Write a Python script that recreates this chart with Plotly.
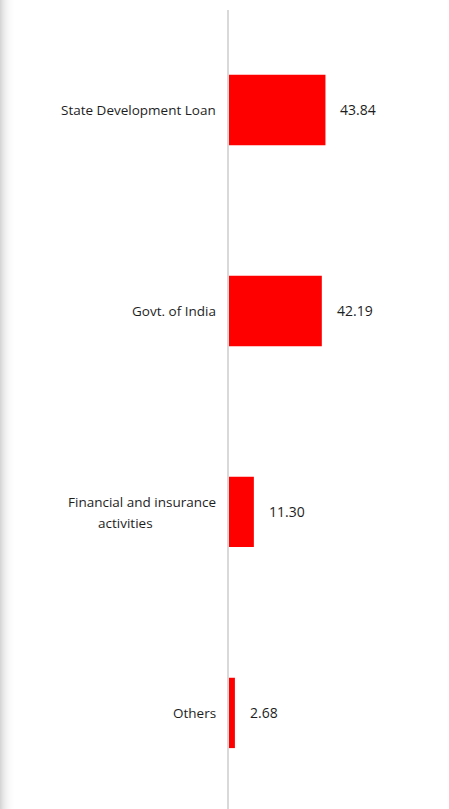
import plotly.graph_objects as go

categories = ["State Development Loan", "Govt. of India", "Financial and insurance<br>activities", "Others"]
values = [43.84, 42.19, 11.30, 2.68]
value_labels = ["43.84", "42.19", "11.30", "2.68"]

W, H = 449, 809
L, T = 229, 10
pw = W - L

ypos = list(range(len(categories)))

fig = go.Figure()
fig.add_trace(go.Bar(
    x=values, y=ypos, orientation="h",
    marker=dict(color="#ff0000", line=dict(width=0)),
    width=0.35, hoverinfo="skip",
))

FONT = "Open Sans, Noto Sans, sans-serif"
annotations = []
for i, (c, v, t) in enumerate(zip(categories, values, value_labels)):
    lines = c.split("<br>")
    n = len(lines)
    for j, ln in enumerate(lines):
        shift = (-(j - (n - 1) / 2) * 21) - (1 if n > 1 else 0)
        if n > 1 and j > 0:
            anchor, xs = "center", 125.5 - L
        else:
            anchor, xs = "right", -11
        annotations.append(dict(x=0, xref="paper", y=i, yref="y", text=ln, showarrow=False,
                                xanchor=anchor, yanchor="middle",
                                xshift=xs, yshift=shift,
                                font=dict(family=FONT, size=13.5, color="#1e1e1e")))
    annotations.append(dict(x=v, xref="x", y=i, yref="y", text=t, showarrow=False,
                            xanchor="left", yanchor="middle", xshift=13,
                            font=dict(family=FONT, size=14, color="#1e1e1e")))

# left edge shadow
shapes = []
shade = [214, 220, 226, 231, 235, 239, 242, 245, 247, 249, 251, 252, 253, 254]
for k, g in enumerate(shade):
    x0 = (k - L) / pw
    x1 = (k + 1 - L) / pw
    shapes.append(dict(type="rect", xref="paper", yref="paper", x0=x0, x1=x1, y0=-0.05, y1=1.05,
                       fillcolor=f"rgb({g},{g},{g})", line=dict(width=0), layer="below"))

fig.update_layout(
    width=W, height=H,
    margin=dict(l=L, r=0, t=T, b=0),
    paper_bgcolor="white", plot_bgcolor="white",
    showlegend=False,
    annotations=annotations,
    shapes=shapes,
    xaxis=dict(range=[0, 100], showgrid=False, zeroline=False, showticklabels=False, showline=False, fixedrange=True),
    yaxis=dict(range=[3.478, -0.4975], showgrid=False, zeroline=False, showticklabels=False, fixedrange=True,
               showline=True, linecolor="#d9d9d9", linewidth=2, layer="below traces", ticks=""),
)

fig.write_html("out.html", config={"displayModeBar": False, "staticPlot": True},
               post_script="document.body.style.margin='0';document.body.style.overflow='hidden';")
